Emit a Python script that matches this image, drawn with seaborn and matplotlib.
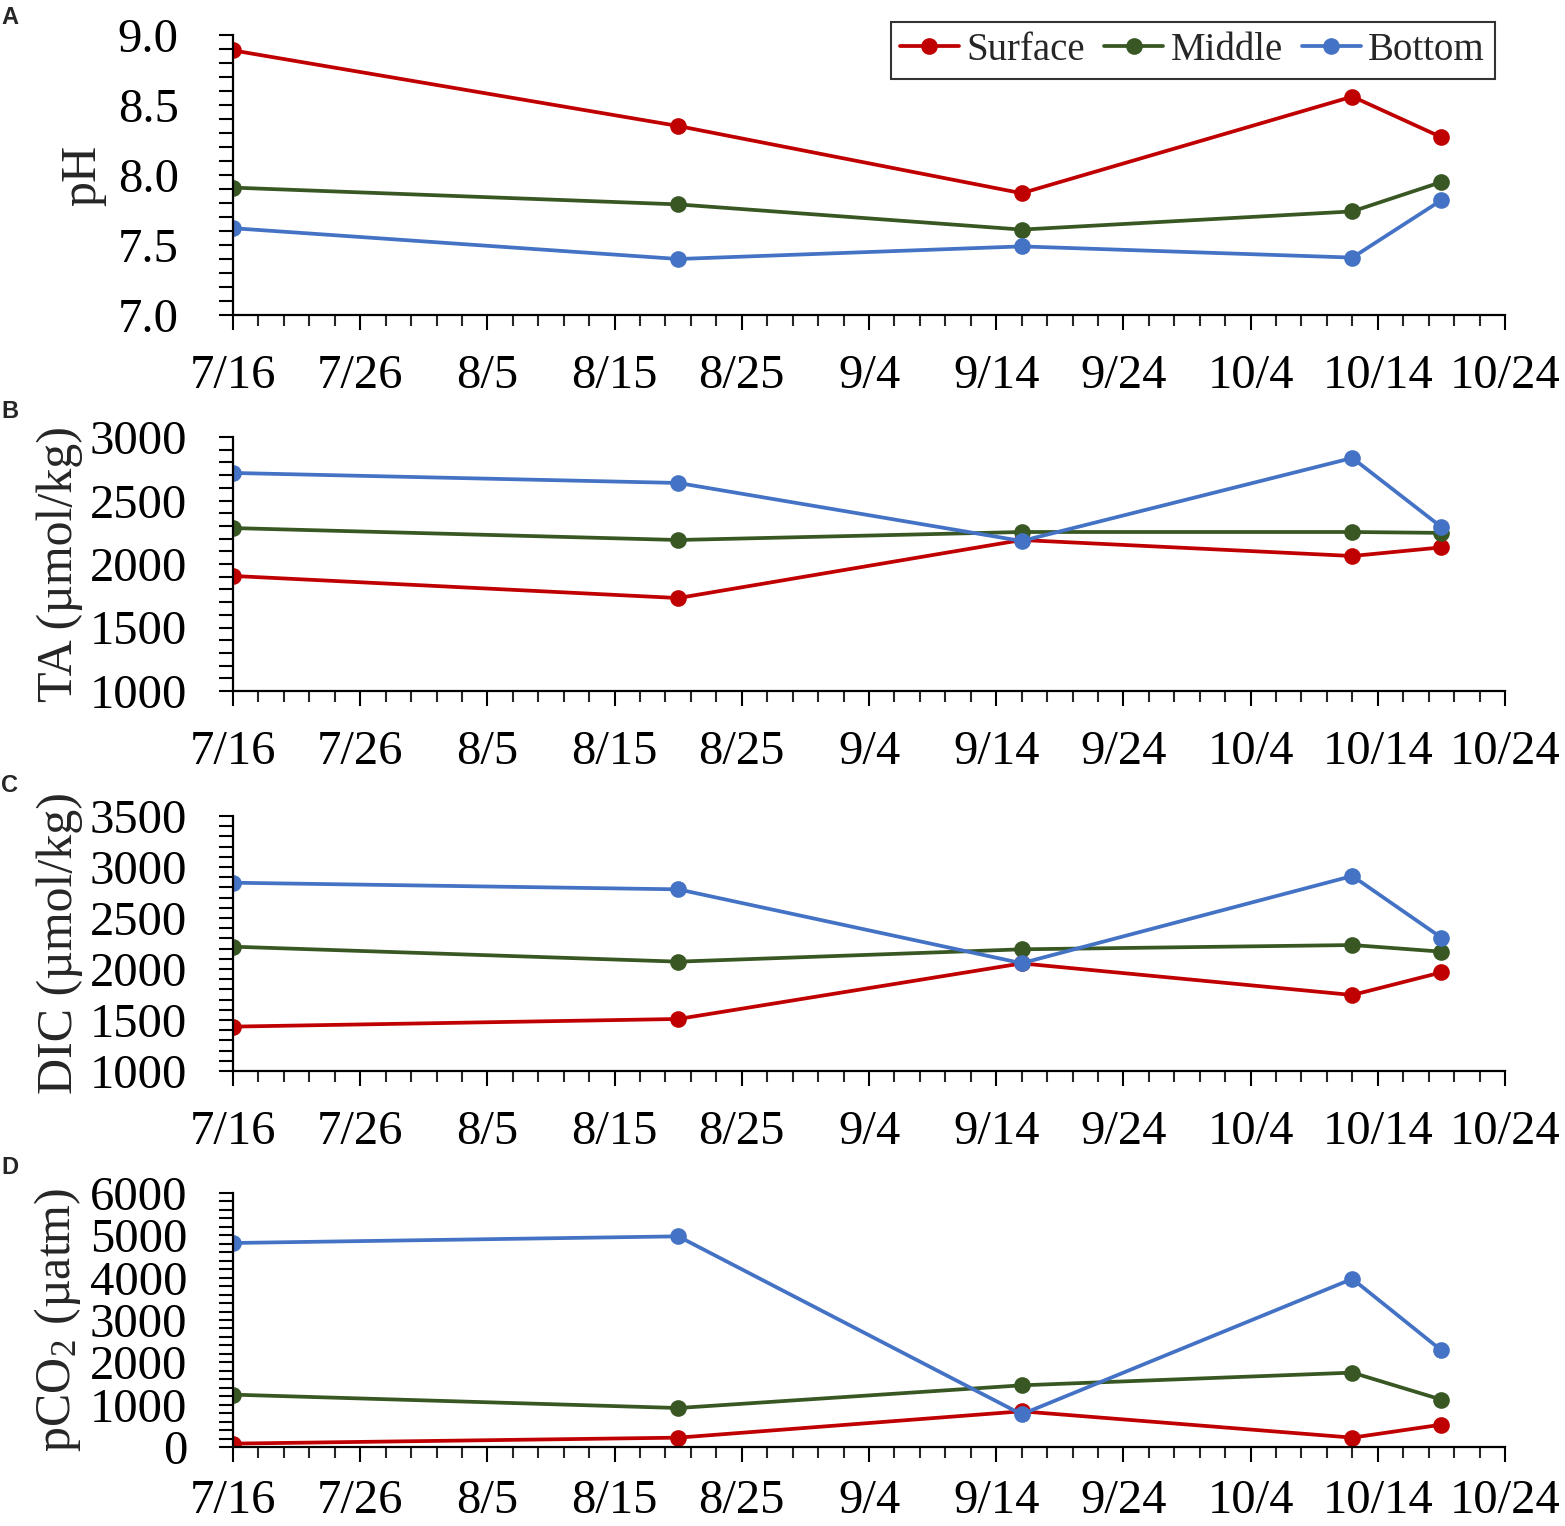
import matplotlib
matplotlib.use("Agg")
import matplotlib.pyplot as plt
import numpy as np
import pandas as pd
import seaborn as sns
from matplotlib.ticker import MultipleLocator, FormatStrFormatter

# sampling dates
dates = ['2019-07-16', '2019-08-20', '2019-09-16', '2019-10-12', '2019-10-19']
layers = ['Surface', 'Middle', 'Bottom']

ph_surface = [8.89, 8.35, 7.87, 8.56, 8.27]
ph_middle = [7.91, 7.79, 7.61, 7.74, 7.95]
ph_bottom = [7.62, 7.40, 7.49, 7.41, 7.82]

ta_surface = [1906, 1732, 2189, 2063, 2131]
ta_middle = [2283, 2189, 2252, 2252, 2245]
ta_bottom = [2717, 2638, 2181, 2835, 2291]

dic_surface = [1435, 1510, 2055, 1745, 1967]
dic_middle = [2219, 2072, 2193, 2235, 2170]
dic_bottom = [2846, 2781, 2057, 2912, 2307]

pco2_surface = [80, 221, 843, 221, 528]
pco2_middle = [1237, 921, 1457, 1757, 1119]
pco2_bottom = [4819, 4976, 772, 3972, 2283]

colors = {'Surface': '#C00000', 'Middle': '#385723', 'Bottom': '#4472C4'}

sns.set_style('ticks')
plt.rcParams['font.family'] = ['Liberation Serif', 'DejaVu Serif']
plt.rcParams['mathtext.fontset'] = 'stix'


def make_df(surf, mid, bot):
    rows = []
    for name, vals in zip(layers, [surf, mid, bot]):
        for d, v in zip(dates, vals):
            rows.append({'date': pd.Timestamp(d), 'layer': name, 'value': v})
    return pd.DataFrame(rows)


panels = [
    ('A', 'pH', make_df(ph_surface, ph_middle, ph_bottom), (7.0, 9.0), 0.5, 0.1, '%.1f'),
    ('B', 'TA (µmol/kg)', make_df(ta_surface, ta_middle, ta_bottom), (1000, 3000), 500, 100, '%d'),
    ('C', 'DIC (µmol/kg)', make_df(dic_surface, dic_middle, dic_bottom), (1000, 3500), 500, 100, '%d'),
    ('D', r'pCO$_\mathregular{2}$ (µatm)', make_df(pco2_surface, pco2_middle, pco2_bottom), (0, 6000), 1000, 200, '%d'),
]

# axes boxes in pixels (top, bottom)
W, H = 1565, 1526
boxes = [(35, 315), (437, 691), (816, 1071), (1193, 1447)]
letter_y = [18, 412, 785, 1168]

fig = plt.figure(figsize=(W / 100, H / 100), dpi=100)

major_ticks = pd.date_range('2019-07-16', '2019-10-24', freq='10D')
minor_ticks = pd.date_range('2019-07-16', '2019-10-24', freq='2D')

for i, (letter, ylabel, df, ylim, major, minor, fmt) in enumerate(panels):
    top, bottom = boxes[i]
    ax = fig.add_axes([233 / W, 1 - bottom / H, 1272 / W, (bottom - top) / H])
    sns.lineplot(data=df, x='date', y='value', hue='layer', hue_order=layers,
                 palette=colors, marker='o', markersize=12, markeredgewidth=0,
                 linewidth=2.7, legend=False, ax=ax)
    ax.set_xlim(pd.Timestamp('2019-07-16'), pd.Timestamp('2019-10-24'))
    ax.set_ylim(*ylim)
    ax.set_xticks(major_ticks)
    ax.set_xticks(minor_ticks, minor=True)
    ax.set_xticklabels([f'{d.month}/{d.day}' for d in major_ticks])
    ax.yaxis.set_major_locator(MultipleLocator(major))
    ax.yaxis.set_minor_locator(MultipleLocator(minor))
    ax.yaxis.set_major_formatter(FormatStrFormatter(fmt))
    ax.set_xlabel('')
    ax.set_ylabel(ylabel, fontsize=36)
    ax.yaxis.set_label_coords(-0.118 if i else -0.100, 0.5)
    for s in ['top', 'right']:
        ax.spines[s].set_visible(False)
    for s in ['left', 'bottom']:
        ax.spines[s].set_linewidth(1.6)
        ax.spines[s].set_color('black')
    ax.tick_params(axis='x', which='major', length=11, width=1.5, labelsize=35,
                   pad=12 if i == 3 else 17, colors='black')
    ax.tick_params(axis='x', which='minor', length=8, width=1.5)
    ax.tick_params(axis='y', which='both', length=10, width=1.5, labelsize=35,
                   pad=29 if i == 0 else 23, colors='black')
    fig.text(1 / W, 1 - letter_y[i] / H, letter, fontsize=17, fontweight='bold',
             family='Liberation Sans', ha='left', va='center')

    if i == 0:
        leg = ax.legend(ax.lines[:3], layers, loc='upper right',
                        bbox_to_anchor=(0.992, 1.046), borderaxespad=0, ncol=3,
                        fontsize=28, frameon=True, fancybox=False,
                        handlelength=1.5, handletextpad=0.2, columnspacing=0.5,
                        borderpad=0.25)
        leg.get_frame().set_edgecolor('black')
        leg.get_frame().set_linewidth(1.5)

fig.savefig('out.png', dpi=100)
